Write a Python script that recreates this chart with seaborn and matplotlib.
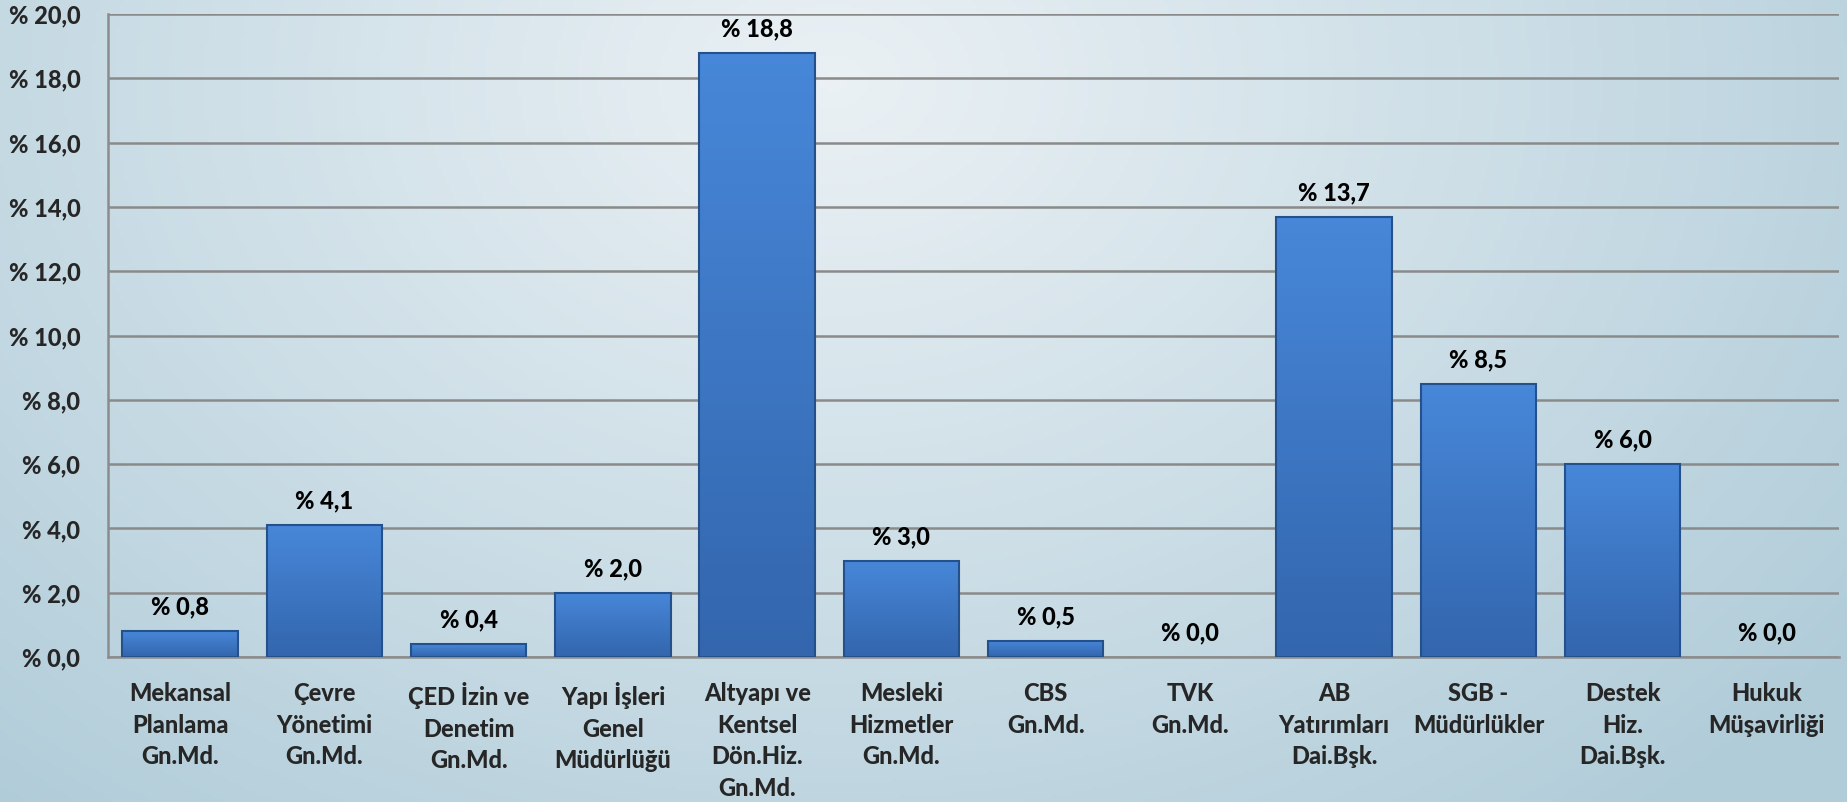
import numpy as np
import pandas as pd
import matplotlib
matplotlib.use("Agg")
import matplotlib.pyplot as plt
import seaborn as sns

categories = ["Mekansal\nPlanlama\nGn.Md.", "Çevre\nYönetimi\nGn.Md.", "ÇED İzin ve\nDenetim\nGn.Md.",
              "Yapı İşleri\nGenel\nMüdürlüğü", "Altyapı ve\nKentsel\nDön.Hiz.\nGn.Md.", "Mesleki\nHizmetler\nGn.Md.",
              "CBS\nGn.Md.", "TVK\nGn.Md.", "AB\nYatırımları\nDai.Bşk.", "SGB -\nMüdürlükler",
              "Destek\nHiz.\nDai.Bşk.", "Hukuk\nMüşavirliği"]
values = [0.8, 4.1, 0.4, 2.0, 18.8, 3.0, 0.5, 0.0, 13.7, 8.5, 6.0, 0.0]
yticks = [0, 2, 4, 6, 8, 10, 12, 14, 16, 18, 20]

sns.set_theme(style="white")
plt.rcParams['font.family'] = ['Lato', 'DejaVu Sans']
plt.rcParams['font.weight'] = 'black'
W = 'black'

fig = plt.figure(figsize=(18.47, 8.02), dpi=100)

# background gradient
bg = fig.add_axes([0, 0, 1, 1], zorder=-10)
h, w = 200, 460
yy, xx = np.mgrid[0:h, 0:w]
d = np.sqrt(((xx / w - 0.45) / 0.7) ** 2 + ((yy / h - 0.1) / 1.2) ** 2)
d = np.clip(d, 0, 1)
c0 = np.array([0.92, 0.945, 0.96])
c1 = np.array([0.69, 0.80, 0.85])
img = c0[None, None, :] * (1 - d[..., None]) + c1[None, None, :] * d[..., None]
bg.imshow(img, aspect='auto', extent=[0, 1, 0, 1], origin='upper')
bg.axis('off')

ax = fig.add_axes([0.0585, 0.1808, 0.9372, 0.8017])
ax.set_facecolor('none')
df = pd.DataFrame({"cat": categories, "val": values})
sns.barplot(data=df, x="cat", y="val", ax=ax, color="#3c7bc8", width=0.8,
            edgecolor="#24508c", linewidth=1.5, saturation=1, zorder=3)

ax.set_ylim(0, 20)
ax.set_xlim(-0.5, len(categories) - 0.5)

# gradient fill inside bars
top = np.array([0.28, 0.53, 0.85])
bot = np.array([0.20, 0.40, 0.68])
grad = np.linspace(0, 1, 100)[:, None, None]
gimg = top[None, None, :] * (1 - grad) + bot[None, None, :] * grad
gimg = np.repeat(gimg, 2, axis=1)
for p in ax.patches:
    hgt = p.get_height()
    if hgt <= 0:
        p.set_visible(False)
        continue
    x0 = p.get_x()
    wdt = p.get_width()
    im = ax.imshow(gimg, extent=[x0, x0 + wdt, 0, hgt], aspect='auto', origin='upper', zorder=3.5)
    im.set_clip_path(p)
    p.set_zorder(4)
    p.set_facecolor('none')

ax.set_xlim(-0.5, len(categories) - 0.5)
ax.set_ylim(0, 20)
ax.set_yticks(yticks)
ax.set_yticklabels([f"% {t:.1f}".replace('.', ',') for t in yticks], fontsize=17, fontweight=W)
ax.set_xticks(range(len(categories)))
ax.set_xticklabels(categories, fontsize=17, fontweight=W, linespacing=1.45)
ax.set_xticks(np.arange(-0.5, len(categories)), minor=True)
ax.tick_params(axis='x', which='major', length=0, pad=18)
ax.tick_params(axis='x', which='minor', length=8, color='#8c8c8c', width=1.5)
ax.tick_params(axis='y', length=8, color='#8c8c8c', width=1.5, pad=12)
ax.grid(axis='y', color='#8a8a8a', linewidth=1.8, zorder=0)
ax.set_axisbelow(True)
for s in ['top', 'right']:
    ax.spines[s].set_visible(False)
for s in ['left', 'bottom']:
    ax.spines[s].set_color('#8c8c8c')
    ax.spines[s].set_linewidth(1.8)
ax.set_xlabel("")
ax.set_ylabel("")

for i, v in enumerate(values):
    ax.annotate(f"% {v:.1f}".replace('.', ','), (i, v), xytext=(0, 9), textcoords='offset points',
                ha='center', va='bottom', fontsize=17, fontweight=W, color='black')

fig.savefig("out.png", dpi=100)
